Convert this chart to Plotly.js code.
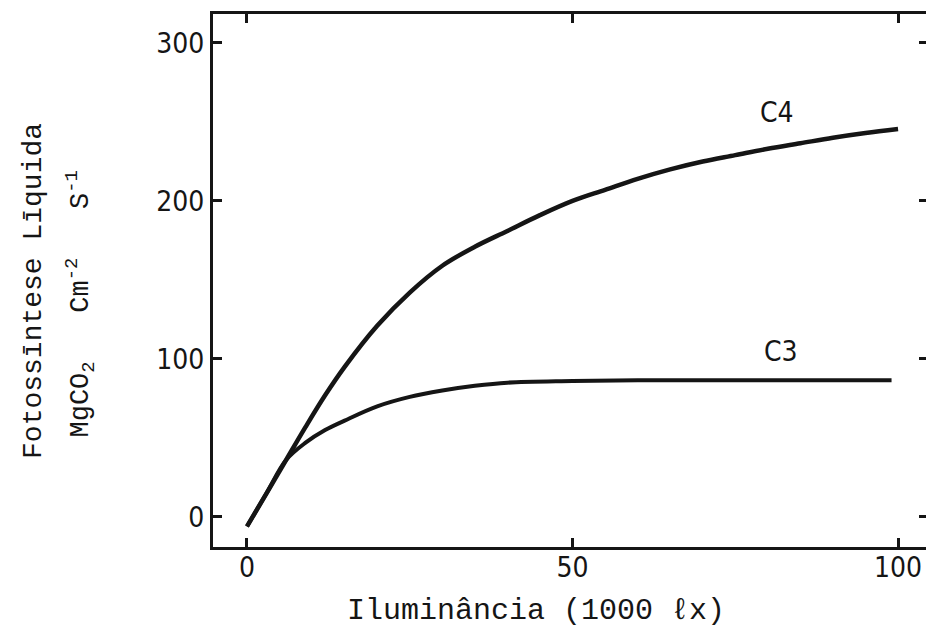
<!DOCTYPE html>
<html>
<head>
<meta charset="utf-8">
<script src="https://cdn.plot.ly/plotly-3.0.1.min.js"></script>
<style>
html,body{margin:0;padding:0;background:#fff;overflow:hidden;}
#chart{width:930px;height:635px;}
</style>
</head>
<body>
<div id="chart"></div>
<script>
// Data (x: Iluminância in 1000 lx, y: net photosynthesis)
var c4X = [0, 3, 6, 9, 12, 15, 20, 25, 30, 35, 40, 45, 50, 55, 60, 65, 70, 75, 80, 85, 90, 95, 100];
var c4Y = [-6, 15, 36, 57, 77, 95, 121, 142, 159, 171, 181, 191, 200, 207, 214, 220, 225, 229, 233, 236.5, 240, 243, 245.5];
var c3X = [0, 3, 6, 9, 12, 15, 20, 25, 30, 35, 40, 50, 60, 70, 80, 90, 99];
var c3Y = [-6, 15, 36, 47, 55, 61, 70, 76, 80, 83, 85, 86, 86.5, 86.5, 86.5, 86.5, 86.5];
var xTicks = [0, 50, 100];
var yTicks = [0, 100, 200, 300];
var seriesNames = ["C4", "C3"];
var xTitle = "Iluminância (1000 ℓx)";
var yTitle1 = "Fotossīntese Līquida";
var yTitle2 = "MgCO<sub>2</sub>\u00a0\u00a0\u00a0Cm<sup>-2</sup>\u00a0\u00a0\u00a0S<sup>-1</sup>";

var ink = "#151515";
var tickFont = {family: "'Liberation Sans Narrow', 'DejaVu Sans Condensed', 'Arial Narrow', sans-serif", size: 28, color: ink};
var titleFont = {family: "'Liberation Mono', 'DejaVu Sans Mono', monospace", size: 30, color: ink};

var traces = [
  {x: c4X, y: c4Y, mode: "lines", name: seriesNames[0], line: {color: ink, width: 4.5, shape: "spline", smoothing: 1}, hoverinfo: "x+y"},
  {x: c3X, y: c3Y, mode: "lines", name: seriesNames[1], line: {color: ink, width: 4, shape: "spline", smoothing: 1}, hoverinfo: "x+y"}
];

var axisCommon = {
  showline: true, linecolor: ink, linewidth: 3, mirror: "ticks",
  ticks: "inside", ticklen: 9, tickwidth: 3, tickcolor: ink,
  showgrid: false, zeroline: false, tickfont: tickFont, fixedrange: true
};

var layout = {
  width: 930, height: 635,
  margin: {l: 213, r: 2, t: 14, b: 88},
  paper_bgcolor: "#fff", plot_bgcolor: "#fff",
  showlegend: false,
  xaxis: Object.assign({}, axisCommon, {range: [-5.22, 104.6], tickmode: "array", tickvals: xTicks, ticktext: xTicks.map(String), ticklabelstandoff: -7}),
  yaxis: Object.assign({}, axisCommon, {range: [-19.0, 318.3], tickmode: "array", tickvals: yTicks, ticktext: yTicks.map(String), ticklabelstandoff: 0}),
  annotations: [
    {x: 81.4, y: 256, xref: "x", yref: "y", text: seriesNames[0], showarrow: false, font: tickFont},
    {x: 82, y: 104.5, xref: "x", yref: "y", text: seriesNames[1], showarrow: false, font: tickFont},
    {x: 0.452, y: -0.12, xref: "paper", yref: "paper", text: xTitle, showarrow: false, font: titleFont, xanchor: "center", yanchor: "middle"},
    {x: -0.252, y: 0.48, xref: "paper", yref: "paper", text: yTitle1, showarrow: false, font: {family: titleFont.family, size: 28, color: ink}, textangle: -90, xanchor: "center", yanchor: "middle"},
    {x: -0.186, y: 0.455, xref: "paper", yref: "paper", text: yTitle2, showarrow: false, font: {family: titleFont.family, size: 27, color: ink}, textangle: -90, xanchor: "center", yanchor: "middle"}
  ]
};

Plotly.newPlot("chart", traces, layout, {displayModeBar: false, staticPlot: true});
</script>
</body>
</html>
